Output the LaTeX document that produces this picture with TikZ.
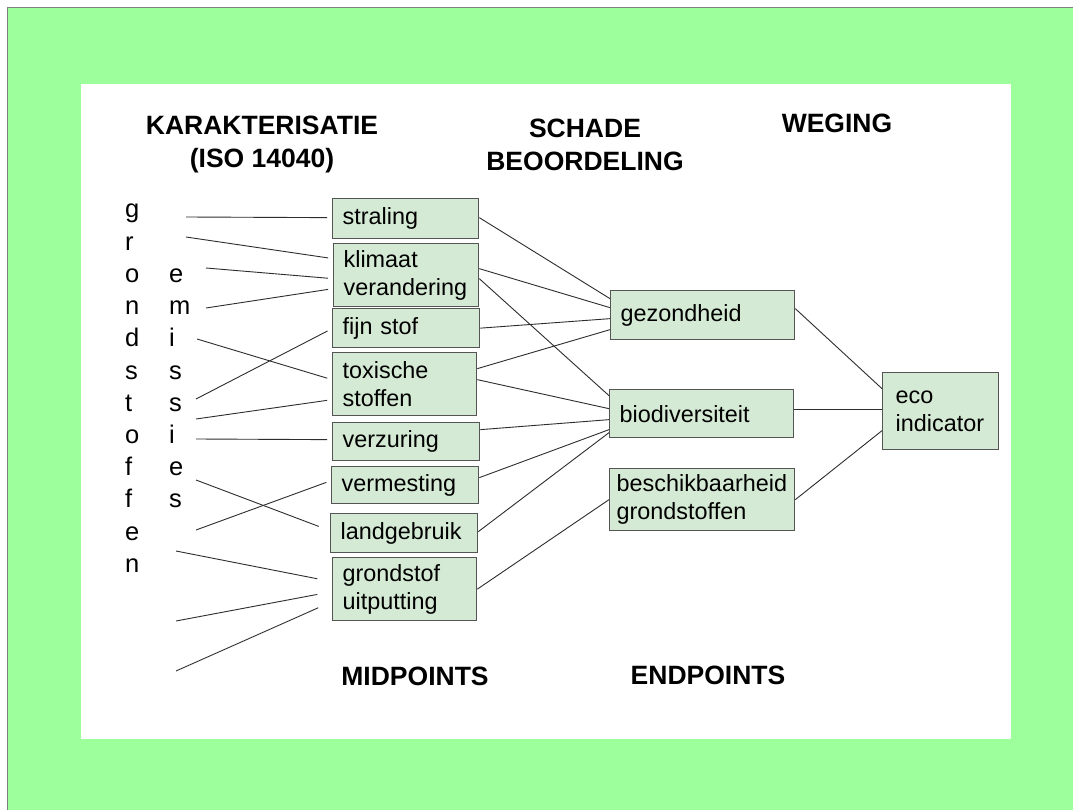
\documentclass[tikz,border=0pt]{standalone}
\usepackage{fontspec}
\setmainfont{Liberation Sans}
\usetikzlibrary{positioning}
\definecolor{dia}{RGB}{156,255,156}
\definecolor{blokvul}{RGB}{212,234,212}
\definecolor{blokrand}{RGB}{85,85,85}
\definecolor{lijn}{RGB}{45,45,45}
\tikzset{
  blok/.style={draw=blokrand,fill=blokvul,line width=1.3pt,anchor=north west,align=left,
    inner xsep=10pt,inner ysep=0pt,font=\fontsize{23.4}{28}\selectfont},
  kop/.style={font=\bfseries\fontsize{26.5}{33}\selectfont,align=center,anchor=base},
  letter/.style={font=\fontsize{25.5}{28}\selectfont,anchor=base west,inner sep=0pt},
  verbind/.style={draw=lijn,line width=0.9pt},
}

\begin{document}
\begin{tikzpicture}[x=1pt,y=-1pt]
\useasboundingbox (0,0) rectangle (1073,810);
\fill[white] (0,0) rectangle (1073,810);
\fill[dia] (7.5,7.5) rectangle (1073,810);
\draw[gray,line width=1pt] (7.5,810) -- (7.5,7.5) -- (1073,7.5);
\fill[white] (81,84) rectangle (1011,739);

\node[kop] (karak) at (262,168) {KARAKTERISATIE\\(ISO 14040)};
\node[kop] (schade) at (585,171) {SCHADE\\BEOORDELING};
\node[kop] (weging) at (837,133) {WEGING};
\node[kop] (midp) at (415,685) {MIDPOINTS};
\node[kop] (endp) at (708,684) {ENDPOINTS};

\foreach \l [count=\i] in {g,r,o,n,d,s,t,o,f,f,e,n}
  \node[letter] (gr\i) at (125,{218+32.2*(\i-1)}) {\l};
\foreach \l [count=\i from 3] in {e,m,i,s,s,i,e,s}
  \node[letter] (em\i) at (169,{218+32.2*(\i-1)}) {\l};

% midpoints
\node[blok,minimum height=40pt,text width=126pt] (straling) at (332,198) {straling};
\node[blok,minimum height=63pt,text width=125pt] (klimaat) at (333,243) {klimaat\\verandering};
\node[blok,minimum height=39pt,text width=127pt] (fijnstof) at (332,308) {fijn stof};
\node[blok,minimum height=63pt,text width=124pt] (toxisch) at (332,352) {toxische\\stoffen};
\node[blok,minimum height=38pt,text width=127pt] (verzuring) at (332,422) {verzuring};
\node[blok,minimum height=37pt,text width=127pt] (vermesting) at (331,466) {vermesting};
\node[blok,minimum height=39pt,text width=127pt] (landgebruik) at (330,513) {landgebruik};
\node[blok,minimum height=63pt,text width=124pt] (uitputting) at (332,557) {grondstof\\uitputting};

% endpoints
\node[blok,minimum height=49pt,text width=164pt] (gezond) at (610,290) {gezondheid};
\node[blok,minimum height=48pt,text width=164pt] (biodiv) at (609,389) {biodiversiteit};
\node[blok,minimum height=62pt,text width=171pt,inner xsep=7pt] (beschik) at (609,468) {beschikbaarheid\\grondstoffen};
\node[blok,minimum height=77pt,text width=90pt,inner xsep=13pt] (eco) at (882,372) {eco\\indicator};

\coordinate (a1) at (186,217);
\coordinate (a2) at (186,237);
\coordinate (a3) at (206,268);
\coordinate (a4) at (206,308);
\coordinate (a5) at (197,339);
\coordinate (a6) at (196,399);
\coordinate (a7) at (196,419);
\coordinate (a8) at (196,439);
\coordinate (a9) at (196,480);
\coordinate (a10) at (196,530);
\coordinate (a11) at (176,551);
\coordinate (a12) at (176,621);
\coordinate (a13) at (176,671);

\draw[verbind,shorten >=5pt] (a1) -- ([yshift=1pt]straling.west);
\draw[verbind,shorten >=5pt] (a2) -- ([yshift=16.5pt]klimaat.west);
\draw[verbind,shorten >=5pt] (a3) -- ([yshift=-3.5pt]klimaat.west);
\draw[verbind,shorten >=5pt] (a4) -- ([yshift=-13.5pt]klimaat.west);
\draw[verbind,shorten >=5pt] (a5) -- ([yshift=4.5pt]toxisch.west);
\draw[verbind,shorten >=5pt] (a6) -- ([yshift=-0.5pt]fijnstof.west);
\draw[verbind,shorten >=5pt] (a7) -- ([yshift=-15.5pt]toxisch.west);
\draw[verbind,shorten >=5pt] (a8) -- ([yshift=2pt]verzuring.west);
\draw[verbind,shorten >=12pt] (a9) -- ([yshift=2.5pt]landgebruik.west);
\draw[verbind,shorten >=5pt] (a10) -- ([yshift=4.5pt]vermesting.west);
\draw[verbind,shorten >=15pt] (a11) -- ([yshift=7.5pt]uitputting.west);
\draw[verbind,shorten >=15pt] (a12) -- ([yshift=-2.5pt]uitputting.west);
\draw[verbind,shorten >=15pt] (a13) -- ([yshift=-12.5pt]uitputting.west);

\draw[verbind] ([yshift=1pt]straling.east) -- ([yshift=16.5pt]gezond.west);
\draw[verbind] ([yshift=6.5pt]klimaat.east) -- ([yshift=7.5pt]gezond.west);
\draw[verbind] ([yshift=-3.5pt]klimaat.east) -- ([yshift=18pt]biodiv.west);
\draw[verbind] (fijnstof.east) -- ([yshift=-3.5pt]gezond.west);
\draw[verbind] ([yshift=15.5pt]toxisch.east) -- ([yshift=-14.5pt]gezond.west);
\draw[verbind] ([yshift=4.5pt]toxisch.east) -- ([yshift=5pt]biodiv.west);
\draw[verbind] ([yshift=12pt]verzuring.east) -- ([yshift=-6pt]biodiv.west);
\draw[verbind] ([yshift=7.5pt]vermesting.east) -- ([yshift=-16pt]biodiv.west);
\draw[verbind] ([yshift=1.5pt]landgebruik.east) -- ([yshift=-19pt]biodiv.west);
\draw[verbind] (uitputting.east) -- (beschik.west);

\draw[verbind] ([yshift=6.5pt]gezond.east) -- ([yshift=22.5pt]eco.west);
\draw[verbind] ([yshift=4pt]biodiv.east) -- ([yshift=1.5pt]eco.west);
\draw[verbind] (beschik.east) -- ([yshift=-19.5pt]eco.west);
\end{tikzpicture}
\end{document}
